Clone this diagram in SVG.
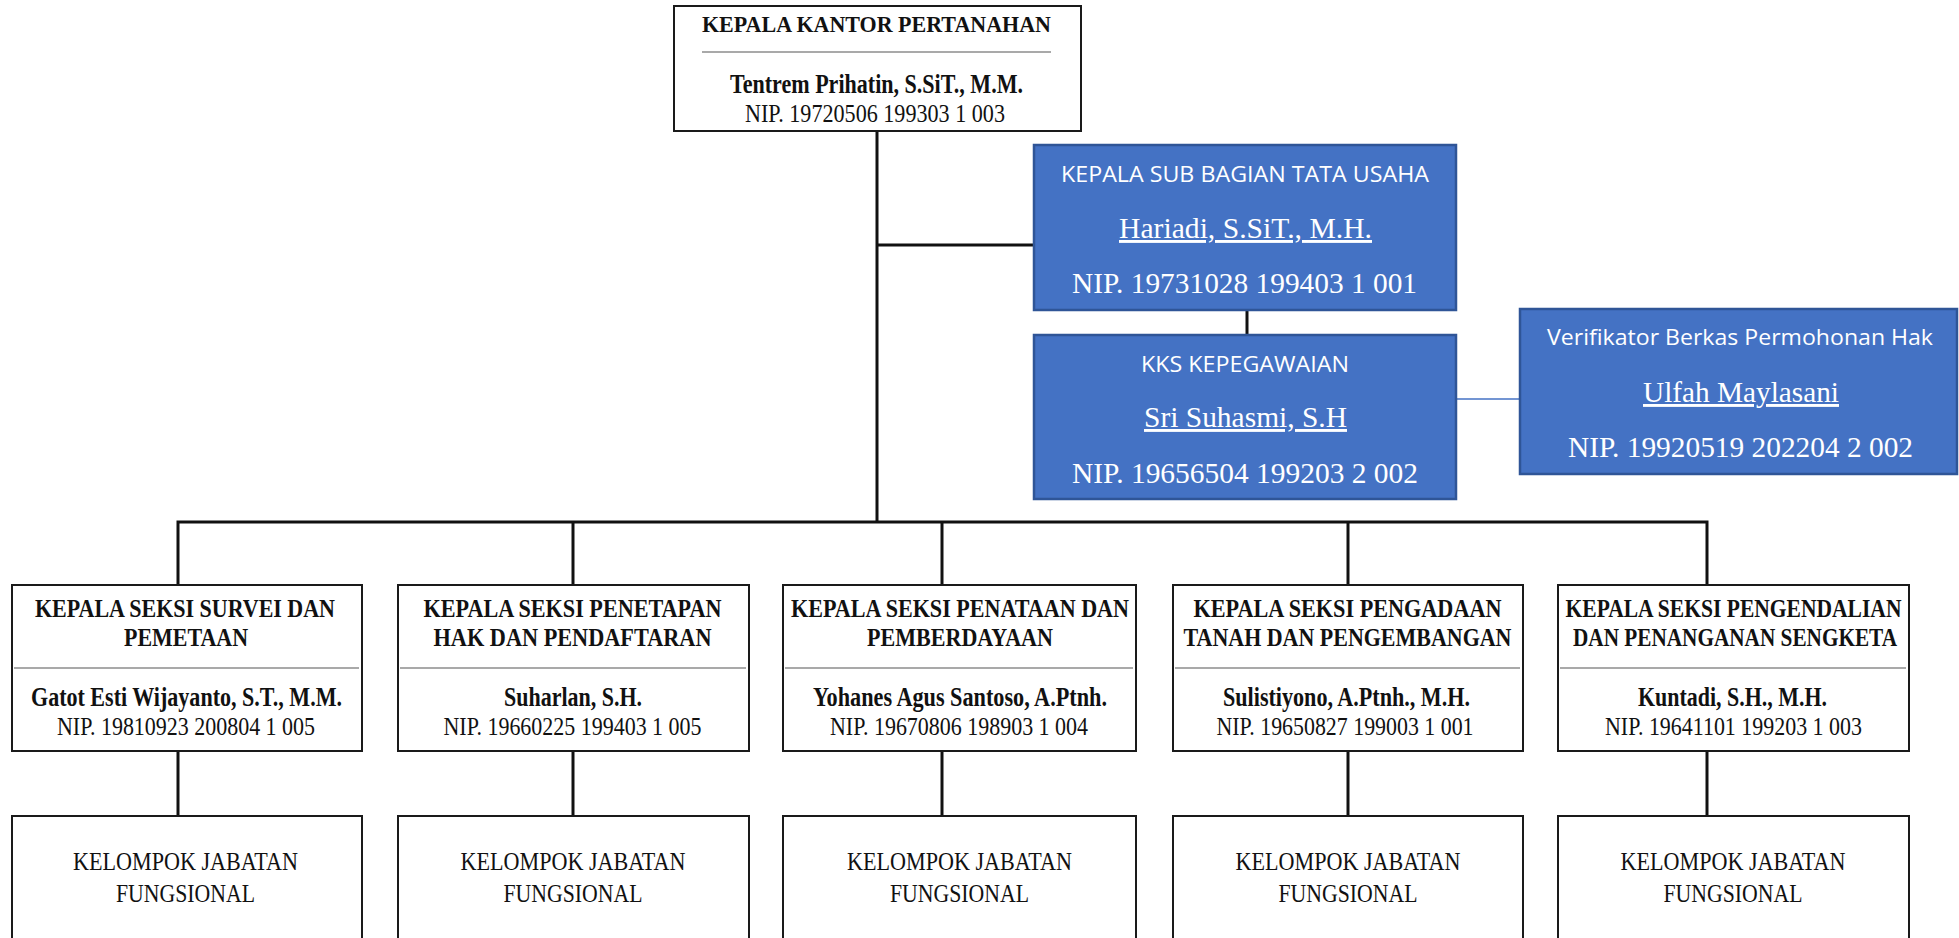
<svg xmlns="http://www.w3.org/2000/svg" width="1959" height="938" viewBox="0 0 1959 938">
<style>
  .box{fill:#ffffff;stroke:#1a1a1a;stroke-width:2}
  .blue{fill:#4472C4;stroke:#2F5597;stroke-width:2.5}
  .sep{stroke:#8c8c8c;stroke-width:1.5}
  .conn{stroke:#111111;stroke-width:3;fill:none}
  .thin{stroke:#4472C4;stroke-width:1.5;fill:none}
  .serif{font-family:"Liberation Serif","Times New Roman",serif;fill:#111111;text-anchor:middle}
  .b{font-weight:bold}
  .wserif{font-family:"Liberation Serif","Times New Roman",serif;fill:#ffffff;text-anchor:middle;font-size:29px}
  .wsans{font-family:"Open Sans","Liberation Sans",sans-serif;fill:#ffffff;text-anchor:middle;font-size:21px}
  .u{text-decoration:underline}
  .t{font-size:26px}
  .n{font-size:27px}
</style>
<g id="connectors">
  <line class="conn" x1="877" y1="131" x2="877" y2="523"/>
  <line class="conn" x1="877" y1="245" x2="1034" y2="245"/>
  <line class="conn" x1="1247" y1="310" x2="1247" y2="335"/>
  <line class="thin" x1="1456" y1="399" x2="1520" y2="399"/>
  <polyline class="conn" points="178,585 178,522 1707,522 1707,585"/>
  <line class="conn" x1="573" y1="522" x2="573" y2="585"/>
  <line class="conn" x1="942" y1="522" x2="942" y2="585"/>
  <line class="conn" x1="1348" y1="522" x2="1348" y2="585"/>
  <line class="conn" x1="178" y1="751" x2="178" y2="816"/>
  <line class="conn" x1="573" y1="751" x2="573" y2="816"/>
  <line class="conn" x1="942" y1="751" x2="942" y2="816"/>
  <line class="conn" x1="1348" y1="751" x2="1348" y2="816"/>
  <line class="conn" x1="1707" y1="751" x2="1707" y2="816"/>
</g>
<g id="kepala-kantor">
  <rect class="box" x="674" y="6" width="407" height="125"/>
  <text class="serif b" x="876.5" y="32" font-size="24" textLength="349" lengthAdjust="spacingAndGlyphs">KEPALA KANTOR PERTANAHAN</text>
  <line class="sep" x1="702" y1="52" x2="1051" y2="52"/>
  <text class="serif b" x="876.5" y="93" font-size="28" textLength="293" lengthAdjust="spacingAndGlyphs">Tentrem Prihatin, S.SiT., M.M.</text>
  <text class="serif t" x="875" y="122" textLength="260" lengthAdjust="spacingAndGlyphs">NIP. 19720506 199303 1 003</text>
</g>
<g id="kasubag-tu">
  <rect class="blue" x="1034" y="145" width="422" height="165"/>
  <text class="wsans" x="1245" y="182" textLength="368" lengthAdjust="spacingAndGlyphs">KEPALA SUB BAGIAN TATA USAHA</text>
  <text class="wserif u" x="1245.5" y="238" textLength="253" lengthAdjust="spacingAndGlyphs">Hariadi, S.SiT., M.H.</text>
  <text class="wserif" x="1244.5" y="293" textLength="345" lengthAdjust="spacingAndGlyphs">NIP. 19731028 199403 1 001</text>
</g>
<g id="kks-kepegawaian">
  <rect class="blue" x="1034" y="335" width="422" height="164"/>
  <text class="wsans" x="1245" y="372" textLength="208" lengthAdjust="spacingAndGlyphs">KKS KEPEGAWAIAN</text>
  <text class="wserif u" x="1245.5" y="427" textLength="203" lengthAdjust="spacingAndGlyphs">Sri Suhasmi, S.H</text>
  <text class="wserif" x="1245" y="483" textLength="346" lengthAdjust="spacingAndGlyphs">NIP. 19656504 199203 2 002</text>
</g>
<g id="verifikator">
  <rect class="blue" x="1520" y="309" width="437" height="165"/>
  <text class="wsans" x="1740" y="345" textLength="386" lengthAdjust="spacingAndGlyphs">Verifikator Berkas Permohonan Hak</text>
  <text class="wserif u" x="1741" y="402" textLength="196" lengthAdjust="spacingAndGlyphs">Ulfah Maylasani</text>
  <text class="wserif" x="1740.5" y="457" textLength="345" lengthAdjust="spacingAndGlyphs">NIP. 19920519 202204 2 002</text>
</g>
<g id="seksi-survei">
  <rect class="box" x="12" y="585" width="350" height="166"/>
  <text class="serif b t" x="185" y="617" textLength="300" lengthAdjust="spacingAndGlyphs">KEPALA SEKSI SURVEI DAN</text>
  <text class="serif b t" x="186" y="646" textLength="124" lengthAdjust="spacingAndGlyphs">PEMETAAN</text>
  <line class="sep" x1="14" y1="668" x2="359" y2="668"/>
  <text class="serif b n" x="186.5" y="706" textLength="311" lengthAdjust="spacingAndGlyphs">Gatot Esti Wijayanto, S.T., M.M.</text>
  <text class="serif t" x="186" y="735" textLength="258" lengthAdjust="spacingAndGlyphs">NIP. 19810923 200804 1 005</text>
</g>
<g id="seksi-penetapan">
  <rect class="box" x="398" y="585" width="351" height="166"/>
  <text class="serif b t" x="572.5" y="617" textLength="298" lengthAdjust="spacingAndGlyphs">KEPALA SEKSI PENETAPAN</text>
  <text class="serif b t" x="572.5" y="646" textLength="278" lengthAdjust="spacingAndGlyphs">HAK DAN PENDAFTARAN</text>
  <line class="sep" x1="400" y1="668" x2="746" y2="668"/>
  <text class="serif b n" x="573" y="706" textLength="138" lengthAdjust="spacingAndGlyphs">Suharlan, S.H.</text>
  <text class="serif t" x="572.5" y="735" textLength="258" lengthAdjust="spacingAndGlyphs">NIP. 19660225 199403 1 005</text>
</g>
<g id="seksi-penataan">
  <rect class="box" x="783" y="585" width="353" height="166"/>
  <text class="serif b t" x="960" y="617" textLength="338" lengthAdjust="spacingAndGlyphs">KEPALA SEKSI PENATAAN DAN</text>
  <text class="serif b t" x="960" y="646" textLength="186" lengthAdjust="spacingAndGlyphs">PEMBERDAYAAN</text>
  <line class="sep" x1="785" y1="668" x2="1133" y2="668"/>
  <text class="serif b n" x="960" y="706" textLength="294" lengthAdjust="spacingAndGlyphs">Yohanes Agus Santoso, A.Ptnh.</text>
  <text class="serif t" x="959" y="735" textLength="258" lengthAdjust="spacingAndGlyphs">NIP. 19670806 198903 1 004</text>
</g>
<g id="seksi-pengadaan">
  <rect class="box" x="1173" y="585" width="350" height="166"/>
  <text class="serif b t" x="1347.5" y="617" textLength="308" lengthAdjust="spacingAndGlyphs">KEPALA SEKSI PENGADAAN</text>
  <text class="serif b t" x="1347.5" y="646" textLength="328" lengthAdjust="spacingAndGlyphs">TANAH DAN PENGEMBANGAN</text>
  <line class="sep" x1="1175" y1="668" x2="1520" y2="668"/>
  <text class="serif b n" x="1346.5" y="706" textLength="247" lengthAdjust="spacingAndGlyphs">Sulistiyono, A.Ptnh., M.H.</text>
  <text class="serif t" x="1345" y="735" textLength="257" lengthAdjust="spacingAndGlyphs">NIP. 19650827 199003 1 001</text>
</g>
<g id="seksi-pengendalian">
  <rect class="box" x="1558" y="585" width="351" height="166"/>
  <text class="serif b t" x="1733.5" y="617" textLength="336" lengthAdjust="spacingAndGlyphs">KEPALA SEKSI PENGENDALIAN</text>
  <text class="serif b t" x="1735" y="646" textLength="324" lengthAdjust="spacingAndGlyphs">DAN PENANGANAN SENGKETA</text>
  <line class="sep" x1="1560" y1="668" x2="1906" y2="668"/>
  <text class="serif b n" x="1732.5" y="706" textLength="189" lengthAdjust="spacingAndGlyphs">Kuntadi, S.H., M.H.</text>
  <text class="serif t" x="1733.5" y="735" textLength="257" lengthAdjust="spacingAndGlyphs">NIP. 19641101 199203 1 003</text>
</g>
<g id="fungsional-1">
  <rect class="box" x="12" y="816" width="350" height="140"/>
  <text class="serif t" x="185.5" y="870" textLength="225" lengthAdjust="spacingAndGlyphs">KELOMPOK JABATAN</text>
  <text class="serif t" x="185.5" y="902" textLength="139" lengthAdjust="spacingAndGlyphs">FUNGSIONAL</text>
</g>
<g id="fungsional-2">
  <rect class="box" x="398" y="816" width="351" height="140"/>
  <text class="serif t" x="573" y="870" textLength="225" lengthAdjust="spacingAndGlyphs">KELOMPOK JABATAN</text>
  <text class="serif t" x="573" y="902" textLength="139" lengthAdjust="spacingAndGlyphs">FUNGSIONAL</text>
</g>
<g id="fungsional-3">
  <rect class="box" x="783" y="816" width="353" height="140"/>
  <text class="serif t" x="959.5" y="870" textLength="225" lengthAdjust="spacingAndGlyphs">KELOMPOK JABATAN</text>
  <text class="serif t" x="959.5" y="902" textLength="139" lengthAdjust="spacingAndGlyphs">FUNGSIONAL</text>
</g>
<g id="fungsional-4">
  <rect class="box" x="1173" y="816" width="350" height="140"/>
  <text class="serif t" x="1348" y="870" textLength="225" lengthAdjust="spacingAndGlyphs">KELOMPOK JABATAN</text>
  <text class="serif t" x="1348" y="902" textLength="139" lengthAdjust="spacingAndGlyphs">FUNGSIONAL</text>
</g>
<g id="fungsional-5">
  <rect class="box" x="1558" y="816" width="351" height="140"/>
  <text class="serif t" x="1733" y="870" textLength="225" lengthAdjust="spacingAndGlyphs">KELOMPOK JABATAN</text>
  <text class="serif t" x="1733" y="902" textLength="139" lengthAdjust="spacingAndGlyphs">FUNGSIONAL</text>
</g>
</svg>
